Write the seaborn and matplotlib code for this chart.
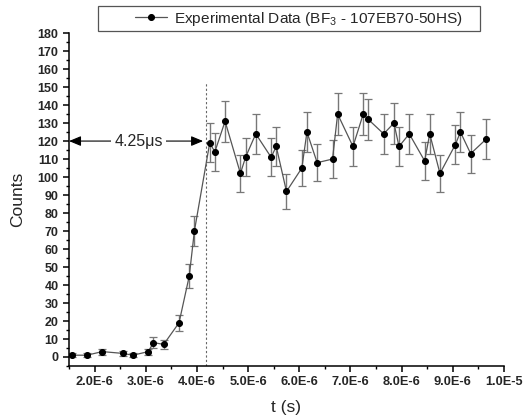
import numpy as np
import pandas as pd
import matplotlib
matplotlib.use("Agg")
import matplotlib.pyplot as plt
import matplotlib.ticker as mticker
from matplotlib.patches import Rectangle
import seaborn as sns

# time in microseconds (converted to seconds below)
t_us = [1.55, 1.85, 2.15, 2.55, 2.75, 3.05, 3.15, 3.35, 3.65, 3.85, 3.95,
        4.25, 4.35, 4.55, 4.85, 4.95, 5.15, 5.45, 5.55, 5.75, 6.05, 6.15,
        6.35, 6.65, 6.75, 7.05, 7.25, 7.35, 7.65, 7.85, 7.95, 8.15, 8.45,
        8.55, 8.75, 9.05, 9.15, 9.35, 9.65]
counts = [1, 1, 3, 2, 1, 3, 8, 7, 19, 45, 70,
          119, 114, 131, 102, 111, 124, 111, 117, 92, 105, 125,
          108, 110, 135, 117, 135, 132, 124, 130, 117, 124, 109,
          124, 102, 118, 125, 113, 121]
errors = [1.0, 1.0, 1.7, 1.4, 1.0, 1.7, 3.0, 2.6, 4.4, 6.7, 8.4,
          10.9, 10.7, 11.4, 10.1, 10.5, 11.1, 10.5, 10.8, 9.6, 10.2, 11.2,
          10.4, 10.5, 11.6, 10.8, 11.6, 11.5, 11.1, 11.4, 10.8, 11.1, 10.4,
          11.1, 10.1, 10.9, 11.2, 10.6, 11.0]

rise_time = 4.18e-6
label_text = "4.25\u03bcs"

df = pd.DataFrame({"t": np.array(t_us) * 1e-6, "counts": counts, "err": errors})

sns.set_theme(style="ticks")
plt.rcParams["font.family"] = ["Liberation Sans", "DejaVu Sans"]
plt.rcParams["mathtext.fontset"] = "custom"
plt.rcParams["mathtext.rm"] = "Liberation Sans"

fig = plt.figure(figsize=(5.31, 4.19), dpi=100)
ax = fig.add_axes([0.130, 0.1265, 0.819, 0.7945])

ax.errorbar(df["t"], df["counts"], yerr=df["err"], fmt="none",
            ecolor="#777777", elinewidth=1.0, capsize=3, capthick=0.9, zorder=2)
sns.lineplot(data=df, x="t", y="counts", ax=ax, color="#555555", linewidth=0.9,
             marker="o", markersize=4.3, markerfacecolor="black",
             markeredgecolor="black", estimator=None, zorder=3,
             label="Experimental Data (BF$_3$ - 107EB70-50HS)")

ax.set_xlim(1.5e-6, 1.0e-5)
ax.set_ylim(-5, 180)

# dashed marker for the rise time
ax.plot([rise_time, rise_time], [-5, 152], linestyle=(0, (2, 2)),
        color="#666666", linewidth=0.8, zorder=1)

ax.annotate("", xy=(1.5e-6, 120), xytext=(4.12e-6, 120),
            arrowprops=dict(arrowstyle="<|-|>,head_length=0.6,head_width=0.25",
                            color="black", lw=0.8, shrinkA=0, shrinkB=0))
ax.text(2.86e-6, 120, label_text, ha="center", va="center", fontsize=11.5,
        bbox=dict(facecolor="white", edgecolor="none", pad=2.5), zorder=4)

ax.xaxis.set_major_locator(mticker.MultipleLocator(1e-6))
ax.xaxis.set_minor_locator(mticker.MultipleLocator(5e-7))
ax.yaxis.set_major_locator(mticker.MultipleLocator(10))
ax.yaxis.set_minor_locator(mticker.MultipleLocator(5))


def sci_fmt(x, pos):
    if x == 0:
        return "0"
    e = int(np.floor(np.log10(abs(x)) + 1e-9))
    m = x / 10 ** e
    return f"{m:.1f}E{e}"


ax.xaxis.set_major_formatter(mticker.FuncFormatter(sci_fmt))

ax.tick_params(axis="both", which="major", direction="out", length=4,
               width=1.1, color="black")
ax.tick_params(axis="both", which="minor", direction="out", length=2,
               width=1.0, color="black")
for lab in ax.get_xticklabels():
    lab.set_fontweight("bold")
    lab.set_fontsize(9.2)
for lab in ax.get_yticklabels():
    lab.set_fontweight("bold")
    lab.set_fontsize(9)

sns.despine(ax=ax)
for side in ["left", "bottom"]:
    ax.spines[side].set_linewidth(1.1)
    ax.spines[side].set_color("black")

ax.set_xlabel("t (s)", fontsize=12.5, labelpad=8)
ax.set_ylabel("Counts", fontsize=12.5, labelpad=9)

# legend sits above the plot inside its own box
handles, labels = ax.get_legend_handles_labels()
ax.legend_.remove()
fig.legend(handles, labels, loc="center left", bbox_to_anchor=(135 / 531, 1 - 18.5 / 419),
           frameon=False, fontsize=11.1, handlelength=2.1,
           handletextpad=0.45, borderpad=0, borderaxespad=0)
fig.patches.append(Rectangle((98 / 531, 1 - 31 / 419), 382 / 531, 25 / 419,
                             transform=fig.transFigure, fill=False,
                             edgecolor="#555555", linewidth=0.9))

plt.savefig("out.png", dpi=100)
plt.close()
